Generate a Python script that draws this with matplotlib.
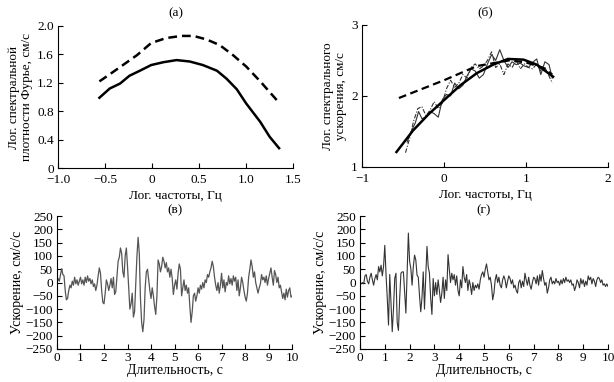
import numpy as np
import matplotlib
matplotlib.use("Agg")
import matplotlib.pyplot as plt

plt.rcParams['font.family'] = ['Liberation Serif', 'DejaVu Serif']
plt.rcParams['font.size'] = 9
plt.rcParams['axes.unicode_minus'] = True

# (а) Fourier spectra
fa_x_solid = [-0.56, -0.45, -0.34, -0.24, -0.13, -0.01, 0.12, 0.26, 0.40, 0.54, 0.69, 0.79, 0.90, 1.00, 1.15, 1.25, 1.35]
fa_y_solid = [0.99, 1.12, 1.19, 1.30, 1.37, 1.45, 1.49, 1.52, 1.50, 1.45, 1.37, 1.26, 1.11, 0.91, 0.65, 0.44, 0.28]
fa_x_dash = [-0.56, -0.45, -0.31, -0.16, -0.01, 0.15, 0.31, 0.44, 0.58, 0.72, 0.86, 1.00, 1.15, 1.35]
fa_y_dash = [1.22, 1.32, 1.45, 1.59, 1.76, 1.83, 1.86, 1.86, 1.81, 1.73, 1.59, 1.43, 1.22, 0.92]

# (б) acceleration spectra
sb_x_fit = [-0.58, -0.38, -0.19, 0.0, 0.20, 0.40, 0.60, 0.78, 0.97, 1.13, 1.33]
sb_y_fit = [1.21, 1.51, 1.74, 1.94, 2.15, 2.32, 2.44, 2.52, 2.51, 2.44, 2.27]
sb_x_dash = [-0.55, 0.0, 0.40, 0.60, 0.80, 1.00, 1.20, 1.32]
sb_y_dash = [1.97, 2.22, 2.42, 2.46, 2.50, 2.47, 2.40, 2.30]
sb_x_thin = [-0.45, -0.40, -0.35, -0.31, -0.27, -0.22, -0.17, -0.12, -0.07, -0.02, 0.03, 0.08,
             0.13, 0.18, 0.23, 0.28, 0.33, 0.38, 0.43, 0.48, 0.53, 0.58, 0.63, 0.68, 0.73,
             0.78, 0.83, 0.88, 0.93, 0.98, 1.03, 1.08, 1.13, 1.18, 1.23, 1.28, 1.32]
sb_y_thin = [1.35, 1.50, 1.62, 1.78, 1.68, 1.70, 1.78, 1.75, 1.70, 1.95, 2.02, 2.00, 2.18,
             2.10, 2.15, 2.28, 2.38, 2.35, 2.25, 2.30, 2.45, 2.58, 2.50, 2.65, 2.50, 2.40,
             2.48, 2.44, 2.46, 2.42, 2.40, 2.47, 2.52, 2.30, 2.48, 2.44, 2.25]
sb_x_dd = [-0.47, -0.42, -0.37, -0.32, -0.27, -0.22, -0.17, -0.12, -0.07, -0.02, 0.03, 0.08,
           0.13, 0.18, 0.23, 0.28, 0.33, 0.38, 0.43, 0.48, 0.53, 0.58, 0.63, 0.68, 0.73,
           0.78, 0.83, 0.88, 0.93, 0.98, 1.03, 1.08, 1.13, 1.18, 1.23, 1.28, 1.32]
sb_y_dd = [1.20, 1.40, 1.65, 1.82, 1.85, 1.72, 1.80, 1.92, 1.82, 1.90, 2.10, 2.22, 2.12,
           2.18, 2.30, 2.25, 2.40, 2.45, 2.38, 2.42, 2.50, 2.62, 2.40, 2.45, 2.30, 2.45,
           2.40, 2.50, 2.38, 2.45, 2.40, 2.38, 2.45, 2.35, 2.40, 2.28, 2.18]

# (в), (г) accelerograms, sampled every 0.05 s
dt = 0.05
acc_v = [0, 15, 5, 30, 52, 30, 25, -30, -65, -60,
         -30, -10, -20, 5, -10, 20, -5, 10, -10, 5,
         20, -5, 10, -10, 20, 0, 25, 5, 15, -5,
         10, -15, -5, -30, -10, 25, 55, 35, -30, -75,
         -80, -40, 10, -5, -30, -10, 15, -20, 20, -45,
         -35, 20, 80, 95, 130, 110, 40, 20, 100, 130,
         60, -20, -100, -80, -40, -130, -110, 0, 100, 170,
         110, -60, -150, -185, -140, -20, 40, 50, 10, -30,
         -60, -20, -50, -90, -120, -50, 85, 70, 40, 60,
         95, 80, 55, 75, 40, 55, 20, 50, 15, -45,
         -10, 10, -25, 35, 70, 50, -50, -20, 10, -30,
         -10, -40, -20, -90, -150, -110, -50, -40, -70, -50,
         -20, -40, -10, -25, 0, -20, 10, 0, 30, 20,
         40, 55, 80, 60, 20, -10, -30, 0, -40, -10,
         35, -20, 10, -35, 0, -10, 25, -5, 15, -10,
         25, 5, 20, -30, 10, -50, -20, 20, 0, -30,
         -55, -70, -40, 20, 50, 85, 60, 20, 40, 0,
         -20, -40, -20, -5, 30, 10, 20, 0, 25, -10,
         15, 35, 55, 20, -10, 45, 30, 0, 20, -20,
         -10, -35, -60, -40, -65, -25, -55, -30, -20, -55,
         -50]
acc_g = [0, -5, 0, -5, 25, 30, 5, -5, 20, 35,
         10, -10, 15, 30, 10, 60, 40, 65, 25, 60,
         140, 30, -60, -160, 30, -80, -185, -100, 15, 35,
         -150, -180, -60, 35, 40, 40, -40, -115, 30, 186,
         80, 53, -10, 60, 103, 85, 28, 20, -50, -110,
         -55, 40, -100, 20, 136, 60, 35, -60, -120, 15,
         -50, 0, -45, 10, -30, -75, -40, 20, -60, 10,
         -30, 105, 50, 0, 35, 10, 30, -10, 25, -30,
         -50, 10, -20, 60, 20, 0, 30, -30, 10, -10,
         -45, 0, -30, -10, -20, -5, -25, 10, 30, 40,
         20, 50, 70, 40, 10, 20, -10, -65, -40, 10,
         30, 0, 20, -10, -20, 10, 25, 10, -20, 5,
         25, 15, -5, 10, -20, -10, -30, -40, 0, 10,
         -20, 5, -15, 35, 10, -10, 20, -10, -25, 0,
         20, 15, -5, 25, -10, 30, 5, 45, 15, -10,
         0, -40, -20, 10, 20, -5, 5, -5, 15, 0,
         5, -10, 10, -5, 15, 0, 20, 5, 10, 0,
         10, -10, -5, -30, -15, 10, 0, -20, 15, -5,
         10, -15, 5, -10, 25, 10, 20, -5, 15, 5,
         -15, 10, 20, 15, 0, 10, -10, -5, -15, -5,
         -15]


def style(ax, xpad=3):
    ax.spines['top'].set_visible(False)
    ax.spines['right'].set_visible(False)
    ax.tick_params(direction='in', length=3.5, width=0.8, labelsize=9.5)
    ax.tick_params(axis='x', pad=xpad)
    ax.tick_params(axis='y', pad=3)
    for s in ('left', 'bottom'):
        ax.spines[s].set_linewidth(0.8)


fig = plt.figure(figsize=(6.14, 3.82), dpi=100)

ax1 = fig.add_axes([0.0945, 0.560, 0.383, 0.372])
ax1.plot(fa_x_solid, fa_y_solid, color='black', lw=1.8)
ax1.plot(fa_x_dash, fa_y_dash, color='black', lw=1.8, ls=(0, (3.5, 2)))
ax1.set_xlim(-1.0, 1.5)
ax1.set_ylim(0, 2.0)
ax1.set_xticks([-1.0, -0.5, 0, 0.5, 1.0, 1.5])
ax1.set_xticklabels(['\u22121.0', '\u22120.5', '0', '0.5', '1.0', '1.5'])
ax1.set_yticks([0, 0.4, 0.8, 1.2, 1.6, 2.0])
ax1.set_yticklabels(['0', '0.4', '0.8', '1.2', '1.6', '2.0'])
ax1.set_xlabel('Лог. частоты, Гц', fontsize=9.5, labelpad=3)
ax1.set_ylabel('Лог. спектральной\nплотности Фурье, см/с', fontsize=9.5, labelpad=3, linespacing=1.1)
ax1.set_title('(а)', fontsize=9.5, pad=7)
style(ax1, xpad=4.5)

ax2 = fig.add_axes([0.5896, 0.563, 0.4007, 0.372])
ax2.plot(sb_x_thin, sb_y_thin, color='#333333', lw=0.8)
ax2.plot(sb_x_dd, sb_y_dd, color='#333333', lw=0.8, ls=(0, (4, 1.5, 1, 1.5)))
ax2.plot(sb_x_fit, sb_y_fit, color='black', lw=1.8)
ax2.plot(sb_x_dash, sb_y_dash, color='black', lw=1.6, ls=(0, (3.5, 2)))
ax2.set_xlim(-1, 2)
ax2.set_ylim(1, 3)
ax2.set_xticks([-1, 0, 1, 2])
ax2.set_xticklabels(['\u22121', '0', '1', '2'])
ax2.set_yticks([1, 2, 3])
ax2.set_xlabel('Лог. частоты, Гц', fontsize=9.5, labelpad=3)
ax2.set_ylabel('Лог. спектрального\nускорения, см/с', fontsize=9.5, labelpad=3, linespacing=1.1)
ax2.set_title('(б)', fontsize=9.5, pad=7)
style(ax2, xpad=4.5)

t_v = np.arange(len(acc_v)) * dt
t_g = np.arange(len(acc_g)) * dt
yt = list(range(-250, 251, 50))
ylab = [('\u2212' + str(-v)) if v < 0 else str(v) for v in yt]

ax3 = fig.add_axes([0.0928, 0.0864, 0.383, 0.348])
ax3.plot(t_v, acc_v, color='#555555', lw=0.9)
ax3.set_title('(в)', fontsize=9.5, pad=2)

ax4 = fig.add_axes([0.5863, 0.0864, 0.404, 0.348])
ax4.plot(t_g, acc_g, color='#333333', lw=0.8)
ax4.set_title('(г)', fontsize=9.5, pad=2)

for ax in (ax3, ax4):
    ax.set_xlim(0, 10)
    ax.set_ylim(-250, 250)
    ax.set_xticks(range(0, 11))
    ax.set_yticks(yt)
    ax.set_yticklabels(ylab)
    ax.set_xlabel('Длительность, с', fontsize=10, labelpad=0)
    ax.set_ylabel('Ускорение, см/с/с', fontsize=10, labelpad=1)
    style(ax, xpad=2)

fig.savefig('out.png', dpi=100)
